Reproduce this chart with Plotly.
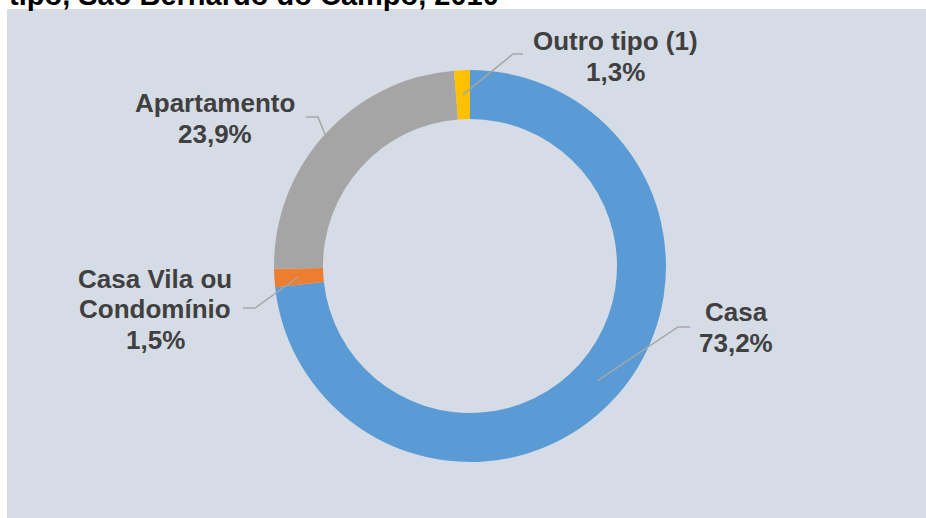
import math
import plotly.graph_objects as go

# Domicílios por tipo – São Bernardo do Campo, 2010
labels = ["Casa", "Casa Vila ou Condomínio", "Apartamento", "Outro tipo (1)"]
label_lines = [["Casa"], ["Casa Vila ou", "Condomínio"], ["Apartamento"], ["Outro tipo (1)"]]
values = [73.2, 1.5, 23.9, 1.3]
colors = ["#5B9BD5", "#ED7D31", "#A5A5A5", "#FFC000"]
title_text = "tipo, São Bernardo do Campo, 2010"

W, H = 926, 518
CX, CY, R_OUT = 470, 266, 196
HOLE = 0.75
PANEL = "#D6DCE5"


def px(x):
    return x / W


def py(y):
    return 1 - y / H


# label layout (pixel positions of text block centre and leader elbow/end)
label_pos = [(736, 312), (155, 278.5), (215, 103), (615, 41)]
leader_r = [0.875, 0.875, 1.0, 0.875]
elbows = [((678, 327), (690, 327)),
          ((255, 308), (243, 308)),
          ((318, 117), (306, 117)),
          ((513, 54), (523, 54))]
LINE_STEP = 30.7

fig = go.Figure(go.Pie(
    labels=labels,
    values=values,
    marker=dict(colors=colors, line=dict(width=0)),
    hole=HOLE,
    sort=False,
    direction="clockwise",
    rotation=0,
    textinfo="none",
    showlegend=False,
    domain=dict(x=[px(CX - R_OUT), px(CX + R_OUT)], y=[py(CY + R_OUT), py(CY - R_OUT)]),
))

# white strips framing the shaded chart panel (top and left)
shapes = [
    dict(type="rect", xref="paper", yref="paper", x0=-0.05, x1=1.05, y0=py(9), y1=1.05,
         fillcolor="#FFFFFF", line=dict(width=0), layer="below"),
    dict(type="rect", xref="paper", yref="paper", x0=-0.05, x1=px(7), y0=-0.05, y1=1.05,
         fillcolor="#FFFFFF", line=dict(width=0), layer="below"),
]
annotations = []

total = sum(values)
cum = 0.0
for i, v in enumerate(values):
    mid = (cum + v / 2) / total
    cum += v
    theta = 2 * math.pi * mid
    r = R_OUT * leader_r[i]
    sx = CX + r * math.sin(theta)
    sy = CY - r * math.cos(theta)
    (ex, ey), (fx, fy) = elbows[i]
    shapes.append(dict(
        type="path", xref="paper", yref="paper",
        path=f"M {px(sx)},{py(sy)} L {px(ex)},{py(ey)} L {px(fx)},{py(fy)}",
        line=dict(color="#A6A6A6", width=1.5),
    ))
    lines = label_lines[i] + [f"{v:.1f}".replace(".", ",") + "%"]
    lx, ly = label_pos[i]
    for k, t in enumerate(lines):
        annotations.append(dict(
            x=px(lx), y=py(ly + k * LINE_STEP), xref="paper", yref="paper",
            text=f"<b>{t}</b>", showarrow=False, xanchor="center", yanchor="middle",
            font=dict(family="Liberation Sans, Arial, sans-serif", size=26, color="#404040"),
        ))

annotations.append(dict(
    x=px(7), y=py(-5), xref="paper", yref="paper", text=f"<b>{title_text}</b>",
    showarrow=False, xanchor="left", yanchor="middle",
    font=dict(family="Liberation Sans, Arial, sans-serif", size=29, color="#000000"),
))

fig.update_layout(
    width=W, height=H,
    margin=dict(l=0, r=0, t=0, b=0),
    paper_bgcolor=PANEL,
    plot_bgcolor=PANEL,
    shapes=shapes,
    annotations=annotations,
)

# page background matches the panel so the chart fills the window edge to edge
page_style = (
    "document.documentElement.style.background='%s';"
    "document.body.style.background='%s';"
    "document.body.style.margin='0';" % (PANEL, PANEL)
)

fig.write_html("out.html", post_script=page_style)
